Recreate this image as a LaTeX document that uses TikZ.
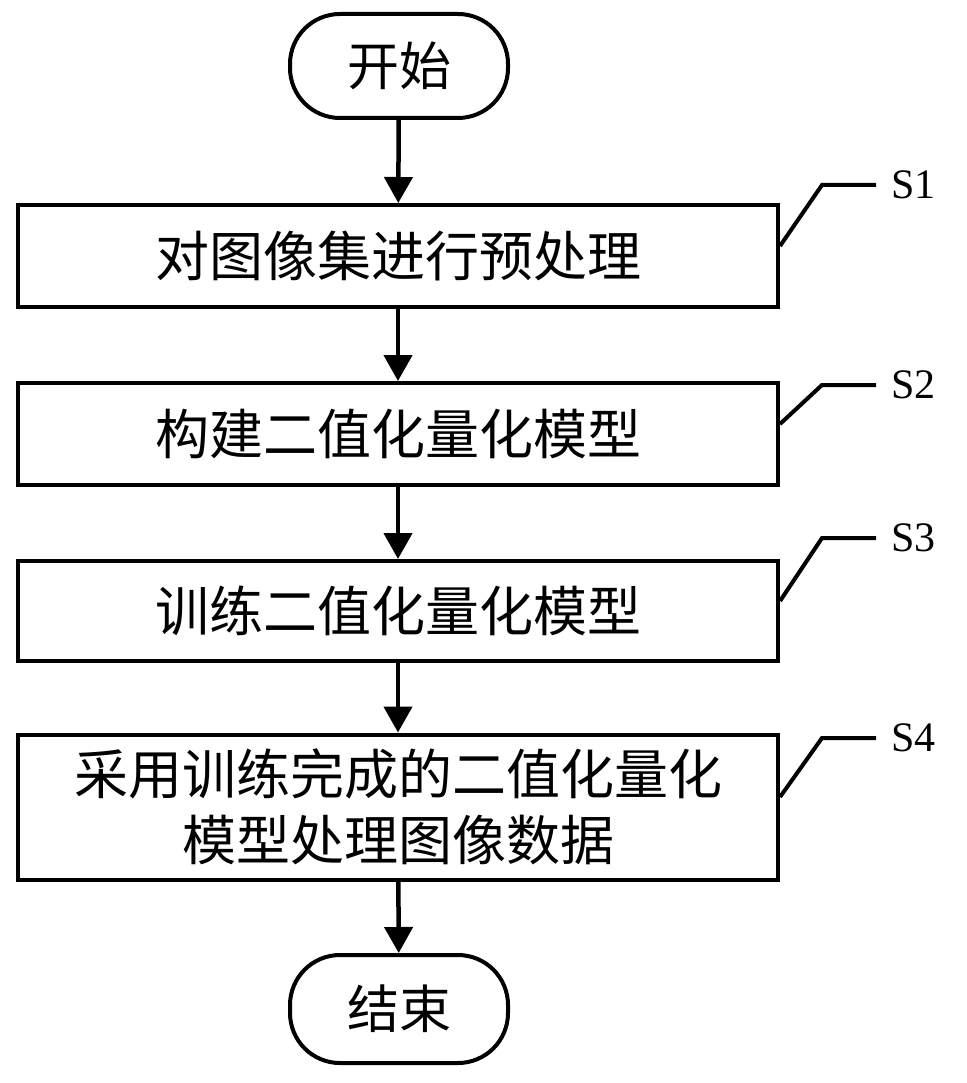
\documentclass[tikz,border=0pt]{standalone}
\usepackage{fontspec}
\setmainfont{Liberation Serif}
\newfontfamily\cjk{Noto Sans CJK SC}
\usetikzlibrary{arrows.meta}
\begin{document}
\begin{tikzpicture}[x=1pt,y=-1pt,
  box/.style={draw,line width=4pt,minimum width=760pt,align=center,font=\cjk\fontsize{54}{66}\selectfont,inner sep=0pt},
  term/.style={draw,line width=4pt,rounded corners=50pt,minimum width=218pt,minimum height=104pt,font=\cjk\fontsize{52}{60}\selectfont},
  arr/.style={line width=4.5pt,-{Triangle[length=26pt,width=28pt]}},
  lead/.style={line width=4pt},
  lab/.style={font=\fontsize{42}{46}\selectfont,anchor=west}]
\useasboundingbox (0,0) rectangle (966,1083);
\node[term] (st) at (399,66) {开始};
\node[box,minimum height=102pt] (s1) at (398,256) {对图像集进行预处理};
\node[box,minimum height=102pt] (s2) at (398,434) {构建二值化量化模型};
\node[box,minimum height=100pt] (s3) at (398,611) {训练二值化量化模型};
\node[box,minimum height=145pt] (s4) at (398,807) {采用训练完成的二值化量化\\模型处理图像数据};
\node[term,minimum height=108pt] (en) at (399,1009) {结束};
\draw[arr] (st) -- (s1);
\draw[arr] (s1) -- (s2);
\draw[arr] (s2) -- (s3);
\draw[arr] (s3) -- (s4);
\draw[arr] (s4) -- (en);
\foreach \n/\y/\t in {s1/185/S1,s2/385/S2,s3/538/S3,s4/738/S4}{
  \coordinate (k\n) at (822,\y);
  \coordinate (e\n) at (876,\y);
  \draw[lead] (\n.east) ++(0,-10) coordinate (b\n);
  \draw[lead] (b\n) -- (k\n) -- (e\n);
  \node[lab] (l\n) at (888,\y) {\t};
}
\end{tikzpicture}
\end{document}
